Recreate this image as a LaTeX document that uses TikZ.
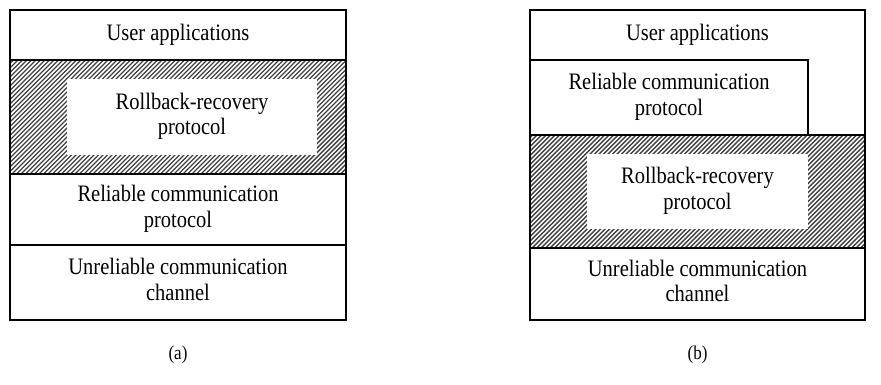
\documentclass[tikz,border=0pt]{standalone}
\usepackage{fontspec}
\usepackage{graphicx}
\setmainfont{Liberation Serif}
\newcommand\hatchrect[4]{%
  \begin{scope}
    \clip (#1,#2) rectangle (#3,#4);
    \foreach \i in {-160,-155.5,...,360}
      \draw[hatchline] ({#1+\i},#4) -- ++(400,-400);
  \end{scope}}
\newcommand\stxt[1]{\scalebox{1}[1.15]{\begin{tabular}{@{}c@{}}#1\end{tabular}}}
\begin{document}
\begin{tikzpicture}[x=1pt,y=-1pt,
  frame/.style={draw, line width=1.6pt, inner sep=0pt},
  lbl/.style={font=\fontsize{20.5}{22}\selectfont, inner sep=0pt},
  whitebox/.style={fill=white, inner sep=0pt},
  hatchline/.style={line width=1.4pt, black!75},
  captxt/.style={font=\fontsize{17}{20}\selectfont, inner sep=0pt}]
\useasboundingbox (0,0) rectangle (881,384);

% ---------- (a) ----------
\hatchrect{10}{60}{346}{174}
\node[whitebox, minimum width=250pt, minimum height=76pt] (awhite) at (192,117) {};
\node[frame, minimum width=336pt, minimum height=50pt] (auser) at (178,35) {};
\node[frame, minimum width=336pt, minimum height=114pt] (arr) at (178,117) {};
\node[frame, minimum width=336pt, minimum height=71pt] (arel) at (178,209.5) {};
\node[frame, minimum width=336pt, minimum height=75pt] (aunr) at (178,282.5) {};
\node[lbl] (tauser) at (auser.center) {\stxt{User applications}};
\node[lbl] (tarr) at (awhite.center) {\stxt{Rollback-recovery\\protocol}};
\node[lbl] (tarel) at (arel.center) {\stxt{Reliable communication\\protocol}};
\node[lbl] (taunr) at (aunr.center) {\stxt{Unreliable communication\\channel}};
\node[captxt] (capa) at (178,355) {\stxt{(a)}};

% ---------- (b) ----------
\hatchrect{530}{135}{865}{248}
\node[whitebox, minimum width=221pt, minimum height=75pt] (bwhite) at (697.5,191.5) {};
\node[frame, minimum width=335pt, minimum height=310pt] (bframe) at (697.5,165) {};
\node[frame, minimum width=278pt, minimum height=75pt] (brel) at (669,97.5) {};
\node[frame, minimum width=335pt, minimum height=113pt] (brr) at (697.5,191.5) {};
\node[frame, minimum width=335pt, minimum height=72pt] (bunr) at (697.5,284) {};
\node[lbl] (tbuser) at (697.5,35) {\stxt{User applications}};
\node[lbl] (tbrel) at (brel.center) {\stxt{Reliable communication\\protocol}};
\node[lbl] (tbrr) at (bwhite.center) {\stxt{Rollback-recovery\\protocol}};
\node[lbl] (tbunr) at (bunr.center) {\stxt{Unreliable communication\\channel}};
\node[captxt] (capb) at (697.5,355) {\stxt{(b)}};
\end{tikzpicture}
\end{document}
